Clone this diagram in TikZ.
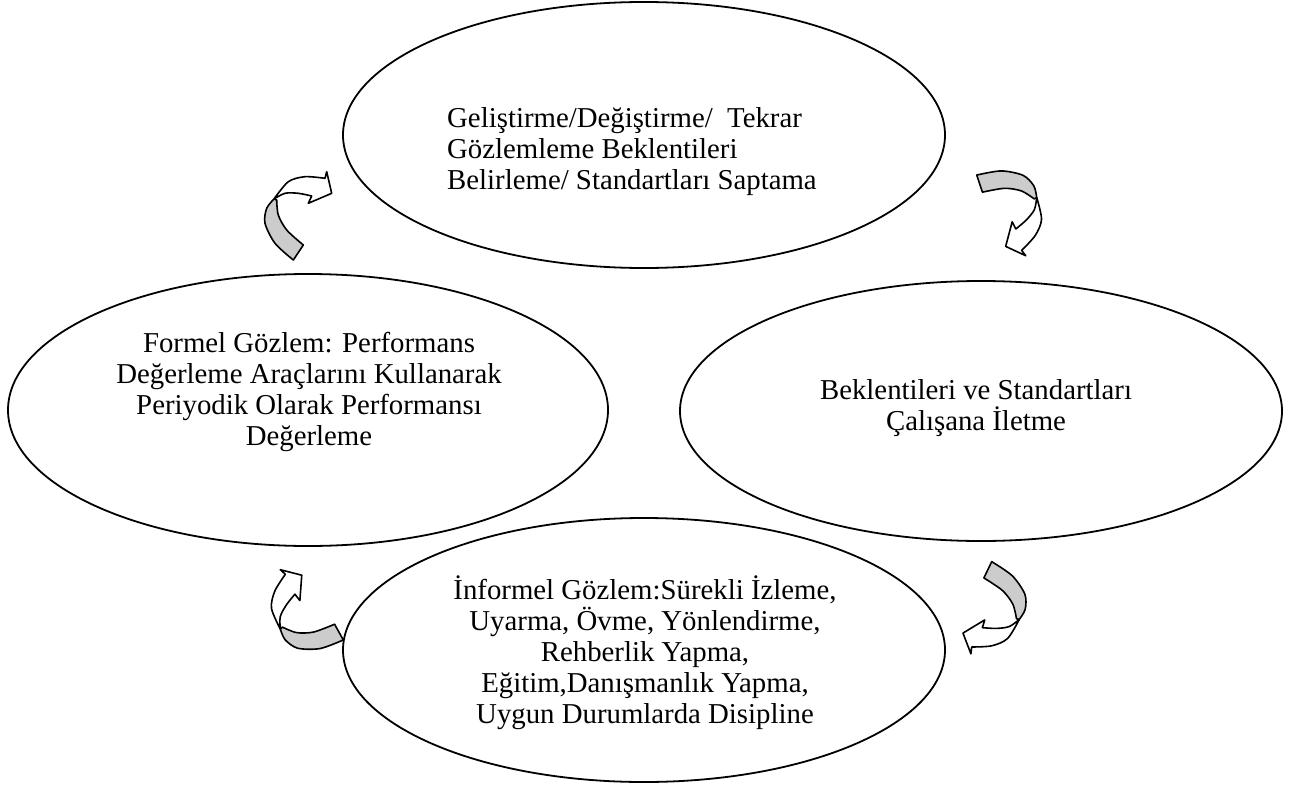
\documentclass[tikz,border=0pt]{standalone}
\usepackage{fontspec}
\setmainfont{Liberation Serif}
\usetikzlibrary{shapes.geometric}

\begin{document}
\begin{tikzpicture}[
  x=1pt, y=-1pt,
  stage/.style={
    draw,
    ellipse,
    line width=1.8pt,
    inner sep=0pt
  },
  stagetext/.style={
    align=center,
    inner sep=0pt,
    font=\fontsize{28.8}{31}\selectfont
  },
  band/.style={line width=1.6pt, line join=round},
  cyclearrow/.pic={
    % back of the band (grey)
    \filldraw[band, fill=gray!40]
      plot[smooth] coordinates {(-6.7,42) (-25,25.3) (-35,5.3) (-33.3,-9.7) (-26,-19)}
      -- plot[smooth] coordinates {(-23.3,-18) (-21.7,-3) (-13.3,12) (3.3,27)}
      -- cycle;
    % front of the band with the head
    \filldraw[band, fill=white]
      plot[smooth] coordinates {(-26,-19) (-11.7,-36.3) (5,-41.3) (25,-39.7)}
      -- (26.7,-46.3) -- (31.7,-24.7) -- (8.3,-14.7)
      -- plot[smooth] coordinates {(11.7,-22) (-1.7,-24.7) (-15,-24.7) (-26,-19)}
      -- cycle;
  }
]
  \useasboundingbox (0,0) rectangle (1298,787);

  \node[stage, minimum width=602pt, minimum height=266pt] (revise) at (644,135) {};
  \node[stage, minimum width=600pt, minimum height=272pt] (formal) at (308,410) {};
  \node[stage, minimum width=602pt, minimum height=260pt] (communicate) at (981,411) {};
  \node[stage, minimum width=602pt, minimum height=264pt] (informal) at (644,650) {};

  \node[stagetext, align=left, anchor=west] (revisetext) at (447,152)
    {Geliştirme/Değiştirme/~ Tekrar\\Gözlemleme Beklentileri\\Belirleme/ Standartları Saptama};
  \node[stagetext] (formaltext) at (309,392)
    {Formel Gözlem: Performans\\Değerleme Araçlarını Kullanarak\\Periyodik Olarak Performansı\\Değerleme};
  \node[stagetext] (communicatetext) at (976,408)
    {Beklentileri ve Standartları\\Çalışana İletme};
  \node[stagetext] (informaltext) at (645,653)
    {İnformel Gözlem:Sürekli İzleme,\\Uyarma, Övme, Yönlendirme,\\Rehberlik Yapma,\\Eğitim,Danışmanlık Yapma,\\Uygun Durumlarda Disipline};

  % arrows between the stages
  \pic (toleft) at (300,218) {cyclearrow};
  \pic[rotate=-128] (toright) at (1005.7,206.2) {cyclearrow};
  \pic[rotate=62.6] (botleft) at (309.1,614.7) {cyclearrow};
  \pic[rotate=-172] (botright) at (990.9,604.2) {cyclearrow};
\end{tikzpicture}
\end{document}
